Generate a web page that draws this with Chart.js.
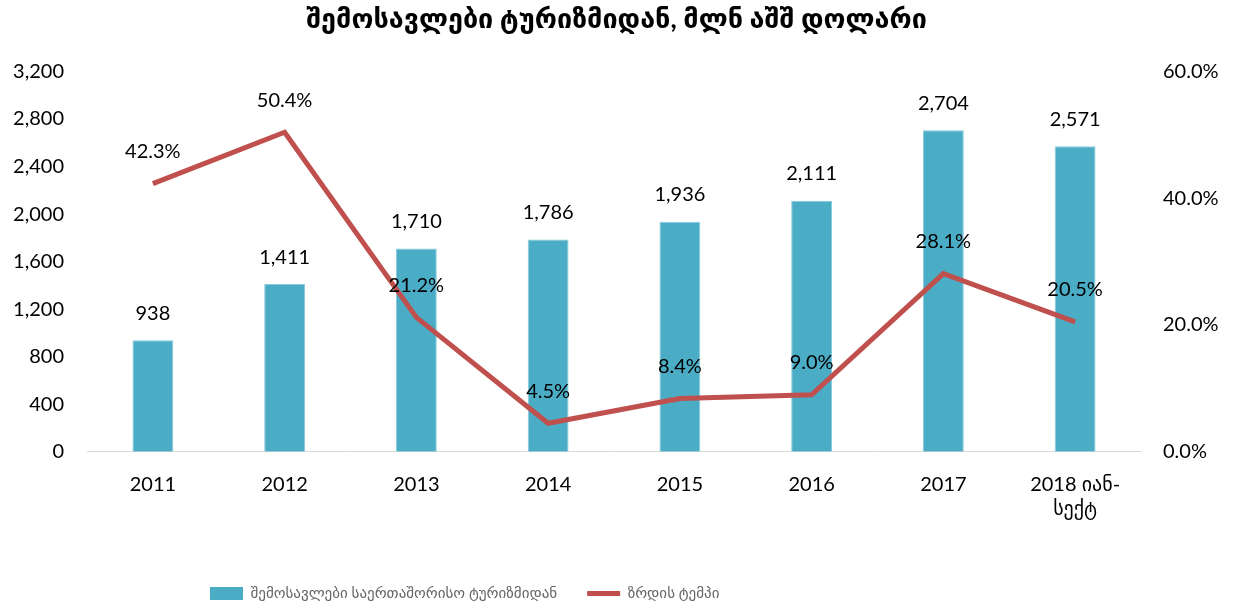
<!DOCTYPE html>
<html>
<head>
<meta charset="utf-8">
<script src="https://cdn.jsdelivr.net/npm/chart.js@4.4.0/dist/chart.umd.min.js"></script>
<style>
  html, body { margin: 0; padding: 0; background: #fff; }
  #wrap { width: 1233px; height: 611px; position: relative; }
</style>
</head>
<body>
<div id="wrap"><canvas id="myChart" width="1233" height="611"></canvas></div>
<script>
const years = ['2011', '2012', '2013', '2014', '2015', '2016', '2017', ['2018 იან-', 'სექტ']];
const revenue = [938, 1411, 1710, 1786, 1936, 2111, 2704, 2571];
const growth = [42.3, 50.4, 21.2, 4.5, 8.4, 9.0, 28.1, 20.5];
const leftTicks = [0, 400, 800, 1200, 1600, 2000, 2400, 2800, 3200];
const rightTicks = [0, 20, 40, 60];

const sans = "Lato, 'DejaVu Sans', sans-serif";

// value labels above bars and line points
const valueLabels = {
  id: 'valueLabels',
  afterDatasetsDraw(chart) {
    const ctx = chart.ctx;
    ctx.save();
    ctx.font = '20px ' + sans;
    ctx.fillStyle = '#000';
    ctx.textAlign = 'center';
    ctx.textBaseline = 'middle';
    chart.data.datasets.forEach((ds, di) => {
      chart.getDatasetMeta(di).data.forEach((el, i) => {
        if (ds.type === 'bar') {
          ctx.fillText(revenue[i].toLocaleString('en-US'), el.x, el.y - 27);
        } else {
          ctx.fillText(growth[i].toFixed(1) + '%', el.x, el.y - 32);
        }
      });
    });
    ctx.restore();
  }
};

// legend in the reference sits left of centre
const legendShift = {
  id: 'legendShift',
  afterLayout(chart) {
    const lg = chart.legend;
    const w = lg.right - lg.left;
    lg.left = 210 - lg.options.labels.padding;
    lg.right = lg.left + w;
  }
};

const ctx = document.getElementById('myChart').getContext('2d');
const myChart = new Chart(ctx, {
  data: {
    labels: years,
    datasets: [
      {
        type: 'line',
        label: 'ზრდის ტემპი',
        data: growth,
        yAxisID: 'y1',
        borderColor: '#C0504D',
        backgroundColor: '#C0504D',
        borderWidth: 5,
        pointRadius: 0,
        tension: 0,
        order: 0,
      },
      {
        type: 'bar',
        label: 'შემოსავლები საერთაშორისო ტურიზმიდან',
        data: revenue,
        yAxisID: 'y',
        backgroundColor: '#4BACC6',
        borderColor: '#86CADB',
        borderWidth: 1,
        categoryPercentage: 1,
        barPercentage: 0.31,
        order: 1,
      },
    ],
  },
  plugins: [valueLabels, legendShift],
  options: {
    responsive: false,
    animation: false,
    layout: { padding: 0 },
    plugins: {
      title: {
        display: true,
        text: 'შემოსავლები ტურიზმიდან, მლნ აშშ დოლარი',
        color: '#000',
        font: { family: sans, size: 27, weight: 'bold' },
        padding: { top: 3, bottom: 36 },
      },
      tooltip: { enabled: false },
      legend: {
        display: true,
        position: 'bottom',
        align: 'start',
        reverse: true,
        title: { display: true, text: ' ', font: { size: 1 }, padding: { top: 13, bottom: 0 } },
        labels: {
          color: '#000',
          font: { family: sans, size: 15 },
          padding: 30,
          usePointStyle: true,
          generateLabels(chart) {
            return chart.data.datasets.map((ds, i) => ({
              text: ds.label,
              fillStyle: ds.backgroundColor,
              strokeStyle: ds.type === 'line' ? ds.borderColor : ds.backgroundColor,
              lineWidth: ds.type === 'line' ? 5 : 0,
              pointStyle: ds.type === 'line' ? 'line' : 'rect',
              datasetIndex: i,
              hidden: false,
            }));
          },
          boxHeight: 13,
          pointStyleWidth: 33,
        },
      },
    },
    scales: {
      x: {
        grid: { display: false, drawTicks: false },
        border: { display: true, color: '#D9D9D9', width: 1 },
        ticks: {
          color: '#000',
          padding: 21,
          maxRotation: 0,
          font: { family: sans, size: 20 },
        },
      },
      y: {
        position: 'left',
        min: 0,
        max: 3200,
        afterBuildTicks: (axis) => { axis.ticks = leftTicks.map(v => ({ value: v })); },
        afterFit: (axis) => { axis.width = 87; },
        grid: { display: false, drawTicks: false },
        border: { display: false },
        ticks: {
          color: '#000',
          padding: 23,
          font: { family: sans, size: 20 },
          callback: (v) => v.toLocaleString('en-US'),
        },
      },
      y1: {
        position: 'right',
        min: 0,
        max: 60,
        afterBuildTicks: (axis) => { axis.ticks = rightTicks.map(v => ({ value: v })); },
        afterFit: (axis) => { axis.width = 92; },
        grid: { display: false, drawTicks: false },
        border: { display: false },
        ticks: {
          color: '#000',
          padding: 22,
          font: { family: sans, size: 20 },
          callback: (v) => v.toFixed(1) + '%',
        },
      },
    },
  },
});
</script>
</body>
</html>
